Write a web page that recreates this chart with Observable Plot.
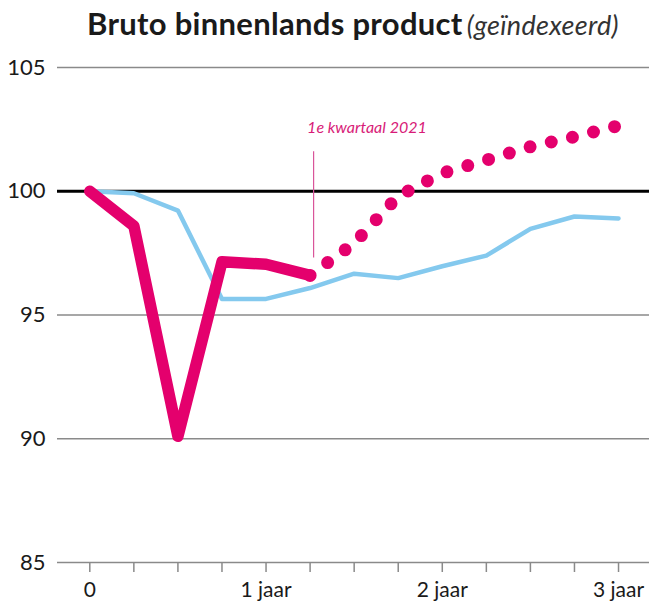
<!DOCTYPE html>
<html>
<head>
<meta charset="utf-8">
<script src="https://cdn.jsdelivr.net/npm/d3@7"></script>
<script src="https://cdn.jsdelivr.net/npm/@observablehq/plot@0.6"></script>
<style>
  html, body { margin: 0; padding: 0; background: #fff; }
  #title { height: 50px; box-sizing: border-box; padding-left: 87px; padding-top: 5px;
    font-family: Lato, "Open Sans", sans-serif; white-space: nowrap; color: #1a1a1a; line-height: 36px; }
  #title .main { font-weight: 700; font-size: 31px; letter-spacing: 0.3px; }
  #title .sub { font-style: italic; font-weight: 400; font-size: 27px; color: #333; letter-spacing: 0.3px; }
</style>
</head>
<body>
<div id="title"><span class="main">Bruto binnenlands product</span> <span class="sub">(geïndexeerd)</span></div>
<div id="chart"></div>
<script>
// Quarters since the start (0 = start, 4 = 1 jaar, ...)
const quarters = d3.range(13);
const xTickLabels = new Map([[0, "0"], [4, "1 jaar"], [8, "2 jaar"], [12, "3 jaar"]]);
const yTicks = [85, 90, 95, 100, 105];

// Pink: realised (quarters 0..5) and forecast (quarters 5..12)
const pinkQuarters = [0, 1, 2, 3, 4, 5];
const pinkValues = [100, 98.6, 90.1, 97.15, 97.05, 96.6];
const forecastQuarters = [5, 6, 7, 8, 9, 10, 11, 12];
const forecastValues = [96.6, 97.9, 99.8, 100.73, 101.26, 101.8, 102.2, 102.65];

// Light blue comparison series (quarters 0..12)
const blueValues = [100, 99.92, 99.22, 95.65, 95.65, 96.09, 96.67, 96.49, 96.97, 97.4, 98.48, 98.98, 98.9];

// Annotation
const annotationQuarter = 5;
const annotationText = "1e kwartaal 2021";
const annotationTextY = 102.55;
const annotationRule = [97.3, 101.6];

const pink = "#e4006d";
const blue = "#84c9ee";

const pinkData = pinkQuarters.map((q, i) => ({q, v: pinkValues[i]}));
const forecastData = forecastQuarters.map((q, i) => ({q, v: forecastValues[i]}));
const blueData = quarters.map((q, i) => ({q, v: blueValues[i]}));

const chart = Plot.plot({
  width: 649,
  height: 555,
  marginLeft: 57,
  marginRight: 0,
  marginTop: 17,
  marginBottom: 43,
  x: {domain: [-0.733, 12.703], label: null},
  y: {domain: [85, 105], label: null},
  style: {fontFamily: "Lato, 'Open Sans', sans-serif", fontSize: "21px", color: "#222", background: "#fff", overflow: "visible"},
  marks: [
    Plot.ruleY(yTicks.filter(d => d !== 100), {stroke: "#8a8a8a", strokeWidth: 1.6}),
    Plot.ruleY([100], {stroke: "#000", strokeWidth: 3}),
    Plot.axisY({ticks: yTicks, tickSize: 0, tickPadding: 12, fontSize: 22, fill: "#1a1a1a"}),
    Plot.axisX({ticks: quarters, tickSize: 10, tickFormat: () => "", stroke: "#8a8a8a", strokeWidth: 1.5}),
    Plot.axisX({ticks: [0, 4, 8, 12], tickSize: 0, tickPadding: 20, tickFormat: d => xTickLabels.get(d), fontSize: 21, fill: "#1a1a1a"}),
    Plot.line(blueData, {x: "q", y: "v", stroke: blue, strokeWidth: 4.5, strokeLinejoin: "round"}),
    Plot.line(forecastData, {x: "q", y: "v", stroke: pink, strokeWidth: 13, strokeLinecap: "round", strokeDasharray: "0 21.7"}),
    Plot.line(pinkData, {x: "q", y: "v", stroke: pink, strokeWidth: 11.5, strokeLinecap: "round", strokeLinejoin: "round"}),
    Plot.ruleX([annotationQuarter], {y1: annotationRule[0], y2: annotationRule[1], dx: 3.5, stroke: "#d9559a", strokeWidth: 1.2}),
    Plot.text([annotationText], {x: annotationQuarter, y: annotationTextY, text: d => d, textAnchor: "start", dx: -3, fill: "#d81b78", fontSize: 16, fontStyle: "italic"})
  ]
});
document.getElementById("chart").appendChild(chart);
</script>
</body>
</html>
